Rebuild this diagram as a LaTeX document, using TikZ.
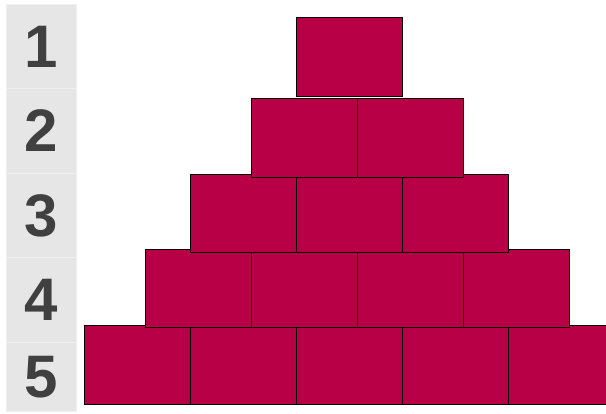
\documentclass[tikz,border=0pt]{standalone}
\usepackage{fontspec}
\setmainfont{Liberation Sans}
\definecolor{blockred}{RGB}{184,0,70}
\definecolor{cellgrey}{RGB}{230,230,230}
\definecolor{cellline}{RGB}{240,240,240}
\definecolor{numgrey}{RGB}{64,64,64}
\begin{document}
\begin{tikzpicture}[x=1pt,y=-1pt,
  block/.style={draw=black,line width=0.9pt,fill=blockred,rectangle,inner sep=0pt,
    minimum width=106pt,minimum height=79pt,anchor=north west},
  cell/.style={fill=cellgrey,draw=cellline,line width=0.8pt,rectangle,inner sep=0pt,
    minimum width=70pt,anchor=north west,text=numgrey,
    font=\fontsize{60}{60}\selectfont\bfseries}]
\useasboundingbox (0,0) rectangle (606,413);
% left column
\node[cell,minimum height=84pt] (n1) at (6,4) {1};
\node[cell,minimum height=85pt] (n2) at (6,88) {2};
\node[cell,minimum height=84pt] (n3) at (6,173) {3};
\node[cell,minimum height=85pt] (n4) at (6,257) {4};
\node[cell,minimum height=69pt] (n5) at (6,342) {5};
% row 5
\node[block] (r5a) at (84,325) {};
\node[block] (r5b) at (190,325) {};
\node[block] (r5c) at (296,325) {};
\node[block] (r5d) at (402,325) {};
\node[block] (r5e) at (508,325) {};
% row 4
\node[block,minimum height=78pt] (r4a) at (145,249) {};
\node[block,minimum height=78pt] (r4b) at (251,249) {};
\node[block,minimum height=78pt] (r4c) at (357,249) {};
\node[block,minimum height=78pt] (r4d) at (463,249) {};
% row 3
\node[block,minimum height=78pt] (r3a) at (190,174) {};
\node[block,minimum height=78pt] (r3b) at (296,174) {};
\node[block,minimum height=78pt] (r3c) at (402,174) {};
% row 2
\node[block] (r2a) at (250.5,98) {};
\node[block] (r2b) at (356.5,98) {};
% row 1
\node[block] (r1a) at (296,17) {};
\end{tikzpicture}
\end{document}
